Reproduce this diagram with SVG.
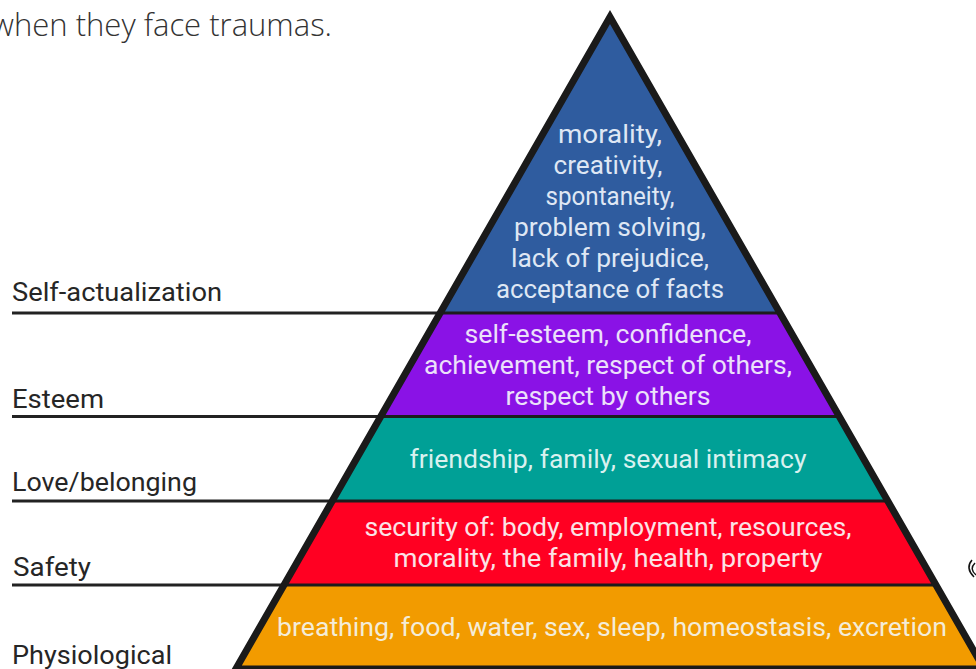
<svg xmlns="http://www.w3.org/2000/svg" width="976" height="669" viewBox="0 0 976 669">
<style>
.lbl{font-family:Roboto,"Liberation Sans",sans-serif;font-size:25px;fill:#262626}
.pt{font-family:Roboto,"Liberation Sans",sans-serif;font-size:25px;text-anchor:middle}
.rule{stroke:#222;stroke-width:3;fill:none}
.sep{stroke:#1c1c1c;stroke-width:3;fill:none}
</style>
<rect width="976" height="669" fill="#ffffff"/>
<text x="332" y="36" text-anchor="end" font-family="'Open Sans',sans-serif" font-weight="300" font-size="31" fill="#333">when they face traumas.</text>

<g id="connectors">
<line class="rule" x1="12" y1="313" x2="441" y2="313"/>
<line class="rule" x1="12" y1="416.5" x2="381" y2="416.5"/>
<line class="rule" x1="12" y1="501" x2="333" y2="501"/>
<line class="rule" x1="12" y1="585" x2="284" y2="585"/>
</g>

<g id="self-actualization">
<polygon points="610,17 440.1,313 779.9,313" fill="#2f5c9f"/>
<text class="lbl" x="12" y="301" textLength="210" lengthAdjust="spacingAndGlyphs">Self-actualization</text>
<g class="pt" fill="#dfe7f4">
<text x="610" y="143" textLength="104" lengthAdjust="spacingAndGlyphs">morality,</text>
<text x="608" y="174" textLength="109" lengthAdjust="spacingAndGlyphs">creativity,</text>
<text x="610" y="205" textLength="129" lengthAdjust="spacingAndGlyphs">spontaneity,</text>
<text x="610" y="236" textLength="192" lengthAdjust="spacingAndGlyphs">problem solving,</text>
<text x="610" y="267" textLength="198" lengthAdjust="spacingAndGlyphs">lack of prejudice,</text>
<text x="610" y="298" textLength="228" lengthAdjust="spacingAndGlyphs">acceptance of facts</text>
</g>
</g>

<g id="esteem">
<polygon points="440.1,313 779.9,313 839,416.5 381,416.5" fill="#8a12e6"/>
<text class="lbl" x="12" y="408" textLength="92" lengthAdjust="spacingAndGlyphs">Esteem</text>
<g class="pt" fill="#ece0fa">
<text x="608" y="343" textLength="287" lengthAdjust="spacingAndGlyphs">self-esteem, confidence,</text>
<text x="608" y="374" textLength="368" lengthAdjust="spacingAndGlyphs">achievement, respect of others,</text>
<text x="608" y="405" textLength="205" lengthAdjust="spacingAndGlyphs">respect by others</text>
</g>
</g>

<g id="love-belonging">
<polygon points="381,416.5 839,416.5 887.2,501 332.8,501" fill="#00a096"/>
<text class="lbl" x="12" y="491" textLength="185" lengthAdjust="spacingAndGlyphs">Love/belonging</text>
<text class="pt" x="608" y="468" fill="#d9f1ef" textLength="397" lengthAdjust="spacingAndGlyphs">friendship, family, sexual intimacy</text>
</g>

<g id="safety">
<polygon points="332.8,501 887.2,501 936,585 284,585" fill="#ff0022"/>
<text class="lbl" x="13" y="576" textLength="78" lengthAdjust="spacingAndGlyphs">Safety</text>
<g class="pt" fill="#fbe3e6">
<text x="608" y="536" textLength="487" lengthAdjust="spacingAndGlyphs">security of: body, employment, resources,</text>
<text x="608" y="567" textLength="429" lengthAdjust="spacingAndGlyphs">morality, the family, health, property</text>
</g>
</g>

<g id="physiological">
<polygon points="284,585 936,585 984.2,669 235.8,669" fill="#f29b00"/>
<text class="lbl" x="12" y="664" textLength="160" lengthAdjust="spacingAndGlyphs">Physiological</text>
<text class="pt" x="612" y="636" fill="#f4ecd8" textLength="670" lengthAdjust="spacingAndGlyphs">breathing, food, water, sex, sleep, homeostasis, excretion</text>
</g>

<g id="outline">
<line class="sep" x1="440" y1="313" x2="780" y2="313"/>
<line class="sep" x1="381" y1="416.5" x2="839" y2="416.5"/>
<line class="sep" x1="333" y1="501" x2="887" y2="501"/>
<line class="sep" x1="284" y1="585" x2="936" y2="585"/>
<polygon points="610,17 235.8,669 984.2,669" fill="none" stroke="#1a1a1a" stroke-width="7" stroke-linejoin="miter" stroke-miterlimit="10"/>
</g>

<g id="edge-mark" fill="none" stroke="#111" stroke-width="1.5">
<path d="M972,560 Q965,568 974,577"/>
<path d="M975,563 Q969,569 976,575"/>
</g>
</svg>
